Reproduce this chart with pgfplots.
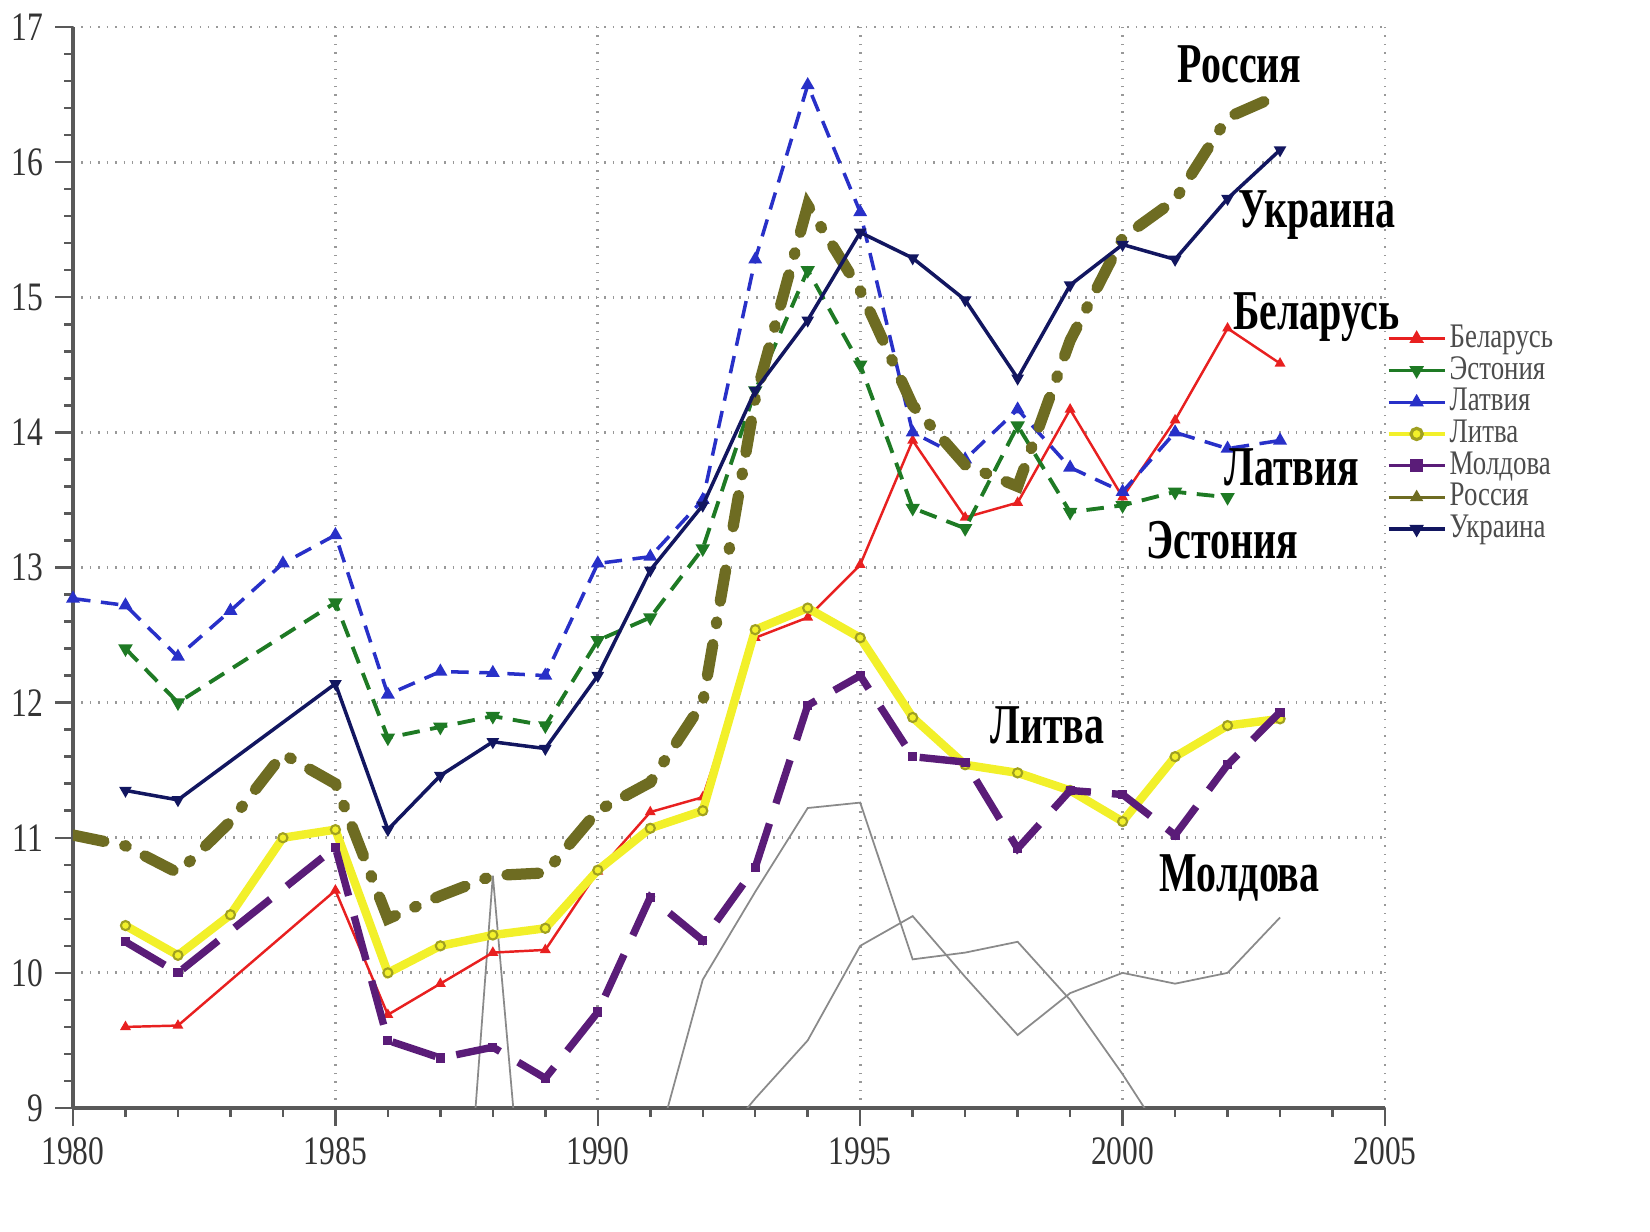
\documentclass[border=0pt]{standalone}
\usepackage{pgfplots}
\pgfplotsset{compat=1.18}
\usepackage{fontspec}
\usepackage{graphicx}
\setmainfont{Liberation Serif}
\newcommand{\cn}[1]{\scalebox{0.78}[1]{#1}}
\newcommand{\lb}[1]{{\fontsize{16}{18}\selectfont\bfseries\scalebox{0.71}[1]{#1}}}
\definecolor{cBel}{HTML}{E82020}
\definecolor{cEst}{HTML}{1E7A24}
\definecolor{cLat}{HTML}{2830C8}
\definecolor{cLit}{HTML}{F2F02A}
\definecolor{cLitE}{HTML}{A0A020}
\definecolor{cMol}{HTML}{5A1C78}
\definecolor{cRus}{HTML}{6E6C22}
\definecolor{cUkr}{HTML}{121660}
\definecolor{cGr}{HTML}{8A8A8A}
\begin{document}
\begin{tikzpicture}
\useasboundingbox (0,0) rectangle (16.5,12.32);
\clip (0,0) rectangle (16.5,12.32);
\begin{axis}[
  at={(0.73cm,1.24cm)}, anchor=south west,
  scale only axis, width=13.12cm, height=10.81cm,
  xmin=1980, xmax=2005, ymin=9, ymax=17,
  axis x line*=bottom, axis y line*=left,
  axis line style={draw=black!65, line width=0.9pt, -},
  xtick={1980,1985,...,2005},
  xticklabels={\cn{1980},\cn{1985},\cn{1990},\cn{1995},\cn{2000},\cn{2005}},
  ytick={9,10,...,17},
  yticklabels={\cn{9},\cn{10},\cn{11},\cn{12},\cn{13},\cn{14},\cn{15},\cn{16},\cn{17}},
  minor x tick num=4, minor y tick num=4,
  tick align=outside,
  major tick length=5pt, minor tick length=2.5pt,
  tick style={draw=black!65, line width=0.7pt},
  tick label style={font=\fontsize{11.5}{12}\selectfont, text=black!80},
  grid=major,
  major grid style={draw=black!40, dotted, line width=0.8pt},
  clip mode=individual,
  legend style={at={(rel axis cs:0.993,0.735)}, anchor=north west, draw=none, fill=none,
    font=\fontsize{9.8}{9.8}\selectfont, text=black!70, row sep=-0.9pt,
    nodes={inner sep=1pt}},
  legend cell align=left,
  legend image code/.code={\draw[#1] (0cm,0cm) -- (0.28cm,0cm) -- (0.56cm,0cm);\draw[#1, mark repeat=1] plot coordinates {(0.28cm,0cm)};},
]
% legend
\addlegendimage{cBel, line width=0.9pt, mark=triangle*, mark size=1.5pt}
\addlegendentry{\cn{Беларусь}}
\addlegendimage{cEst, line width=0.9pt, mark=triangle*, mark size=1.5pt, mark options={rotate=180}}
\addlegendentry{\cn{Эстония}}
\addlegendimage{cLat, line width=0.9pt, mark=triangle*, mark size=1.5pt}
\addlegendentry{\cn{Латвия}}
\addlegendimage{cLit, line width=0.9pt, mark=*, mark size=1.6pt, mark options={draw=cLitE, fill=cLit}}
\addlegendentry{\cn{Литва}}
\addlegendimage{cMol, line width=0.9pt, mark=square*, mark size=1.3pt}
\addlegendentry{\cn{Молдова}}
\addlegendimage{cRus, line width=0.9pt, mark=triangle*, mark size=1.3pt}
\addlegendentry{\cn{Россия}}
\addlegendimage{cUkr, line width=0.9pt, mark=triangle*, mark size=1.5pt, mark options={rotate=180}}
\addlegendentry{\cn{Украина}}

% thin gray lines
\addplot[forget plot, cGr, line width=0.5pt] coordinates {(1987,5.5) (1988,10.72) (1989,6.3)};
\addplot[forget plot, cGr, line width=0.5pt] coordinates {
 (1991,8.53) (1992,9.95) (1993,10.6) (1994,11.22) (1995,11.26) (1996,10.1) (1997,10.15) (1998,10.23) (1999,9.8) (2000,9.25) (2001,8.65)};
\addplot[forget plot, cGr, line width=0.5pt] coordinates {
 (1992,8.6) (1993,9.07) (1994,9.5) (1995,10.2) (1996,10.42) (1997,9.97) (1998,9.54) (1999,9.85) (2000,10.0) (2001,9.92) (2002,10.0) (2003,10.41)};

% Беларусь
\addplot[forget plot, cBel, line width=0.7pt, mark=triangle*, mark size=1.1pt] coordinates {
 (1981,9.6) (1982,9.61) (1985,10.61) (1986,9.69) (1987,9.92) (1988,10.15) (1989,10.17) (1990,10.75) (1991,11.19) (1992,11.3) (1993,12.48) (1994,12.63) (1995,13.02) (1996,13.94) (1997,13.37) (1998,13.48) (1999,14.17) (2000,13.52) (2001,14.09) (2002,14.77) (2003,14.51)};
% Эстония
\addplot[forget plot, cEst, line width=1.1pt, dash pattern=on 5pt off 3pt, mark=triangle*, mark size=1.3pt, mark options={solid, rotate=180}] coordinates {
 (1981,12.4) (1982,12.0) (1985,12.74) (1986,11.74) (1987,11.82) (1988,11.9) (1989,11.83) (1990,12.46) (1991,12.63) (1992,13.14) (1993,14.31) (1994,15.2) (1995,14.5) (1996,13.44) (1997,13.29) (1998,14.05) (1999,13.41) (2000,13.46) (2001,13.56) (2002,13.52)};
% Латвия
\addplot[forget plot, cLat, line width=1.0pt, dash pattern=on 5pt off 3pt, mark=triangle*, mark size=1.3pt, mark options={solid}] coordinates {
 (1980,12.77) (1981,12.72) (1982,12.34) (1983,12.68) (1984,13.03) (1985,13.24) (1986,12.06) (1987,12.23) (1988,12.22) (1989,12.2) (1990,13.03) (1991,13.08) (1992,13.5) (1993,15.28) (1994,16.57) (1995,15.63) (1996,14.0) (1997,13.8) (1998,14.17) (1999,13.74) (2000,13.56) (2001,14.0) (2002,13.88) (2003,13.94)};
% Литва
\addplot[forget plot, cLit, line width=2.4pt, mark=*, mark size=1.3pt, mark options={draw=cLitE, fill=cLit, line width=0.6pt}] coordinates {
 (1981,10.35) (1982,10.13) (1983,10.43) (1984,11.0) (1985,11.06) (1986,10.0) (1987,10.2) (1988,10.28) (1989,10.33) (1990,10.76) (1991,11.07) (1992,11.2) (1993,12.54) (1994,12.7) (1995,12.48) (1996,11.89) (1997,11.54) (1998,11.48) (1999,11.35) (2000,11.12) (2001,11.6) (2002,11.83) (2003,11.88)};
% Молдова
\addplot[forget plot, cMol, line width=2.1pt, dash pattern=on 13pt off 6pt, mark=square*, mark size=1.1pt, mark options={solid, line width=0.4pt}] coordinates {
 (1981,10.23) (1982,10.0) (1985,10.93) (1986,9.5) (1987,9.37) (1988,9.45) (1989,9.22) (1990,9.71) (1991,10.56) (1992,10.24) (1993,10.78) (1994,11.98) (1995,12.2) (1996,11.6) (1997,11.56) (1998,10.92) (1999,11.35) (2000,11.32) (2001,11.02) (2002,11.54) (2003,11.93)};
% Россия
\addplot[forget plot, cRus, line width=3.2pt, line cap=round, dash pattern=on 9pt off 6pt on 0.5pt off 6pt] coordinates {
 (1980,11.02) (1981,10.94) (1982,10.74) (1983,11.12) (1984,11.62) (1985,11.4) (1986,10.4) (1987,10.57) (1988,10.72) (1989,10.74) (1990,11.2) (1991,11.41) (1992,12.0) (1993,14.25) (1994,15.68) (1995,15.05) (1996,14.2) (1997,13.76) (1998,13.6) (1999,14.68) (2000,15.44) (2001,15.72) (2002,16.33) (2003,16.5)};
% Украина
\addplot[forget plot, cUkr, line width=1.0pt, mark=triangle*, mark size=1.1pt, mark options={rotate=180}] coordinates {
 (1981,11.35) (1982,11.28) (1985,12.14) (1986,11.06) (1987,11.46) (1988,11.71) (1989,11.66) (1990,12.2) (1991,12.98) (1992,13.46) (1993,14.31) (1994,14.83) (1995,15.48) (1996,15.29) (1997,14.98) (1998,14.4) (1999,15.09) (2000,15.39) (2001,15.28) (2002,15.73) (2003,16.09)};

% labels
\node at (axis cs:2002.23,16.72) {\lb{Россия}};
\node at (axis cs:2003.71,15.61) {\lb{Украина}};
\node at (axis cs:2003.69,14.85) {\lb{Беларусь}};
\node at (axis cs:2003.22,13.74) {\lb{Латвия}};
\node at (axis cs:2001.9,13.2) {\lb{Эстония}};
\node at (axis cs:1998.57,11.83) {\lb{Литва}};
\node at (axis cs:2002.23,10.70) {\lb{Молдова}};
\end{axis}
\end{tikzpicture}
\end{document}
